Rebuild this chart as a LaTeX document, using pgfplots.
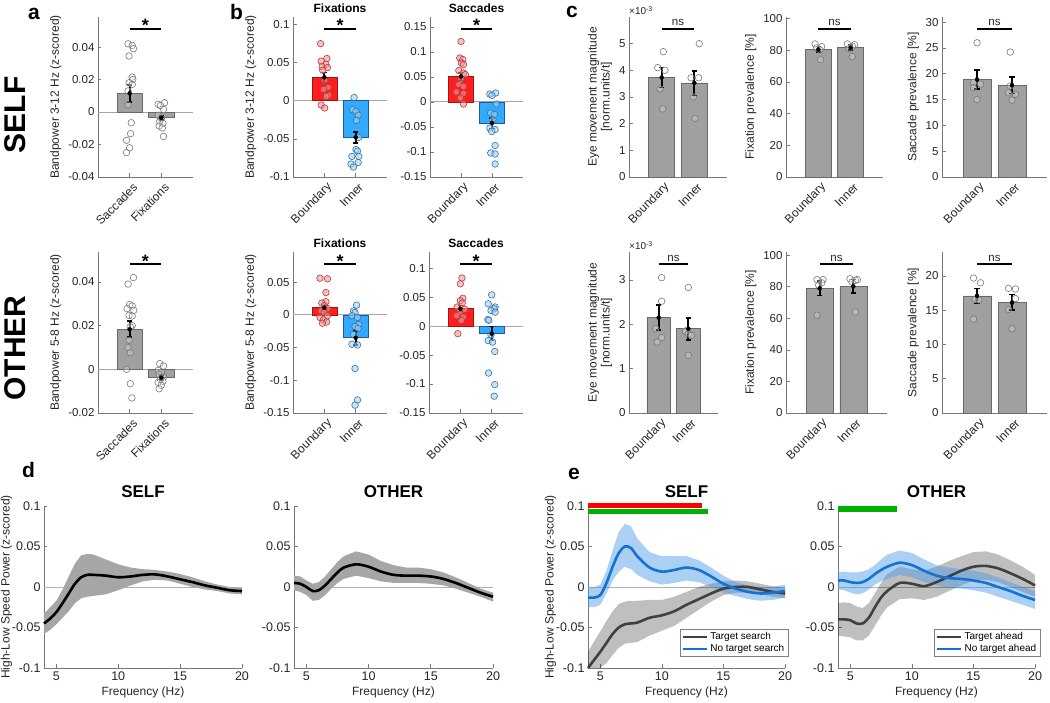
\documentclass[border=0pt]{standalone}
\usepackage{fontspec}
\setmainfont{Liberation Sans}
\usepackage{pgfplots}
\pgfplotsset{compat=1.18}
\usepackage{pgfplotstable}

\definecolor{axgray}{RGB}{120,120,120}
\definecolor{txt}{RGB}{38,38,38}
\definecolor{bargray}{RGB}{160,160,160}
\definecolor{baredge}{RGB}{105,105,105}
\definecolor{barred}{RGB}{255,30,30}
\definecolor{rededge}{RGB}{160,20,20}
\definecolor{barblue}{RGB}{50,170,255}
\definecolor{blueedge}{RGB}{30,90,150}
\definecolor{ptgray}{RGB}{120,120,120}
\definecolor{ptred}{RGB}{180,60,60}
\definecolor{ptredfill}{RGB}{240,150,150}
\definecolor{ptblue}{RGB}{55,115,160}
\definecolor{ptbluefill}{RGB}{160,210,245}
\definecolor{lineblue}{RGB}{20,115,210}
\definecolor{bandblue}{RGB}{70,150,230}
\definecolor{linedark}{RGB}{64,64,64}
\definecolor{sigred}{RGB}{255,0,0}
\definecolor{siggreen}{RGB}{0,176,0}

\pgfplotsset{
 base/.style={scale only axis, anchor=south west, axis x line*=bottom, axis y line*=left,
   axis line style={axgray, line width=0.7pt}, tick style={axgray, line width=0.7pt},
   major tick length=3.5pt, tick align=inside,
   ticklabel style={font=\fontsize{11.5}{12}\selectfont, text=txt},
   label style={font=\fontsize{12}{13}\selectfont, text=txt},
   /pgf/number format/assume math mode=true, /pgf/number format/fixed,
   scaled ticks=false, clip=false,
   title style={font=\bfseries\fontsize{12}{12}\selectfont, at={(0.5,1)}, anchor=base, yshift=-2pt}},
 barax/.style={base, xmin=0, xmax=3, xtick={1,2},
   xticklabel style={font=\fontsize{12}{12}\selectfont, xshift=8pt, yshift=-6pt, rotate=45, anchor=east}},
 lineax/.style={base, xmin=4, xmax=20, ymin=-0.1, ymax=0.1, xtick={5,10,15,20},
   ytick={-0.1,-0.05,0,0.05,0.1}, xlabel={Frequency (Hz)}, ylabel shift=-7pt,
   ticklabel style={font=\fontsize{12.5}{13}\selectfont},
   title style={font=\bfseries\fontsize{17}{17}\selectfont, yshift=4pt}},
 gbar/.style={ybar, bar width=0.8, bar shift=0pt, fill=bargray, draw=baredge, line width=0.6pt},
 rbar/.style={ybar, bar width=0.8, bar shift=0pt, fill=barred, draw=rededge, line width=0.6pt},
 bbar/.style={ybar, bar width=0.8, bar shift=0pt, fill=barblue, draw=blueedge, line width=0.6pt},
 gpts/.style={only marks, mark=*, mark size=3.3pt, mark options={draw=ptgray, fill=white, fill opacity=0.25, line width=0.6pt}},
 rpts/.style={only marks, mark=*, mark size=3.3pt, mark options={draw=ptred, fill=ptredfill, fill opacity=0.6, line width=0.6pt}},
 bpts/.style={only marks, mark=*, mark size=3.3pt, mark options={draw=ptblue, fill=ptbluefill, fill opacity=0.6, line width=0.6pt}},
 ebar/.style={only marks, mark=none, black, error bars/.cd, y dir=both, y explicit,
   error bar style={black, line width=2pt}, error mark options={black, line width=1.6pt, mark size=2.6pt, rotate=90}},
 zline/.style={black!35, line width=1pt},
}
\tikzset{
 sigline/.style={black, line width=2.6pt},
 star/.style={font=\bfseries\fontsize{18}{18}\selectfont, anchor=base, yshift=-3pt, inner sep=0pt},
 ns/.style={font=\fontsize{11.5}{12}\selectfont, anchor=base, yshift=3pt, inner sep=0pt, text=txt},
 pl/.style={font=\bfseries\fontsize{21}{21}\selectfont, anchor=base west, inner sep=0pt},
 expo/.style={anchor=south west, font=\fontsize{10}{10}\selectfont, text=txt, inner sep=0pt, yshift=2pt},
}

% mean curves (x, mean)
\pgfplotstableread{
x m
4 -0.045
4.5 -0.039
5 -0.031
5.5 -0.020
6 -0.008
6.5 0.004
7 0.012
7.5 0.015
8 0.015
9 0.014
10 0.012
11 0.013
12 0.015
13 0.0155
14 0.013
15 0.0095
16 0.006
17 0.002
18 -0.001
19 -0.004
20 -0.005
}\dSelf
\pgfplotstableread{
x m
4 0.005
4.5 0.004
5 0.000
5.5 -0.005
6 -0.004
6.5 0.002
7 0.010
7.5 0.018
8 0.024
9 0.028
10 0.025
11 0.019
12 0.015
13 0.014
14 0.014
15 0.013
16 0.010
17 0.005
18 -0.001
19 -0.007
20 -0.012
}\dOther
\pgfplotstableread{
x m
4 -0.013
4.5 -0.013
5 -0.010
5.5 0.005
6 0.025
6.5 0.042
7 0.050
7.5 0.048
8 0.038
9 0.024
10 0.019
11 0.021
12 0.024
13 0.021
14 0.013
15 0.004
16 -0.002
17 -0.006
18 -0.008
19 -0.007
20 -0.005
}\eSelfNo
\pgfplotstableread{
x m
4 -0.100
4.5 -0.090
5 -0.080
5.5 -0.069
6 -0.058
6.5 -0.050
7 -0.046
7.5 -0.045
8 -0.044
9 -0.038
10 -0.035
11 -0.030
12 -0.022
13 -0.015
14 -0.008
15 -0.002
16 0.000
17 0.000
18 -0.003
19 -0.006
20 -0.008
}\eSelfT
\pgfplotstableread{
x m
4 0.008
4.5 0.008
5 0.006
5.5 0.005
6 0.006
6.5 0.010
7 0.016
7.5 0.021
8 0.025
9 0.030
10 0.027
11 0.020
12 0.014
13 0.011
14 0.010
15 0.008
16 0.005
17 0.000
18 -0.005
19 -0.011
20 -0.016
}\eOtherNo
\pgfplotstableread{
x m
4 -0.040
4.5 -0.040
5 -0.041
5.5 -0.045
6 -0.045
6.5 -0.038
7 -0.025
7.5 -0.013
8 -0.005
9 0.005
10 0.004
11 0.001
12 0.006
13 0.013
14 0.020
15 0.025
16 0.026
17 0.023
18 0.017
19 0.010
20 0.002
}\eOtherT

% confidence bands as closed outlines: upper edge 4->20, then lower edge 20->4
\pgfplotstableread{
x y
4 -0.033
4.5 -0.025
5 -0.017
5.5 -0.003
6 0.013
6.5 0.029
7 0.039
7.5 0.041
8 0.040
9 0.034
10 0.028
11 0.024
12 0.022
13 0.021
14 0.019
15 0.016
16 0.012
17 0.007
18 0.003
19 0.000
20 -0.001
20 -0.009
19 -0.008
18 -0.005
17 -0.003
16 0.000
15 0.004
14 0.008
13 0.009
12 0.007
11 0.002
10 -0.004
9 -0.009
8 -0.011
7.5 -0.012
7 -0.014
6.5 -0.020
6 -0.030
5.5 -0.038
5 -0.046
4.5 -0.053
4 -0.058
}\bSelf
\pgfplotstableread{
x y
4 0.014
4.5 0.013
5 0.008
5.5 0.004
6 0.006
6.5 0.013
7 0.022
7.5 0.031
8 0.038
9 0.044
10 0.040
11 0.032
12 0.027
13 0.024
14 0.024
15 0.022
16 0.018
17 0.012
18 0.005
19 -0.002
20 -0.007
20 -0.018
19 -0.012
18 -0.007
17 -0.002
16 0.002
15 0.004
14 0.005
13 0.005
12 0.005
11 0.007
10 0.011
9 0.014
8 0.010
7.5 0.005
7 -0.002
6.5 -0.010
6 -0.016
5.5 -0.017
5 -0.010
4.5 -0.006
4 -0.004
}\bOther
\pgfplotstableread{
x y
4 0.000
4.5 0.000
5 0.003
5.5 0.020
6 0.045
6.5 0.068
7 0.078
7.5 0.075
8 0.060
9 0.043
10 0.038
11 0.038
12 0.038
13 0.033
14 0.024
15 0.014
16 0.006
17 0.002
18 0.000
19 0.000
20 0.003
20 -0.013
19 -0.016
18 -0.017
17 -0.015
16 -0.011
15 -0.007
14 0.000
13 0.006
12 0.008
11 0.005
10 0.003
9 0.007
8 0.015
7.5 0.022
7 0.025
6.5 0.019
6 0.008
5.5 -0.008
5 -0.022
4.5 -0.025
4 -0.025
}\bSelfNo
\pgfplotstableread{
x y
4 -0.080
4.5 -0.067
5 -0.055
5.5 -0.042
6 -0.030
6.5 -0.021
7 -0.018
7.5 -0.017
8 -0.017
9 -0.016
10 -0.016
11 -0.012
12 -0.006
13 0.000
14 0.004
15 0.007
16 0.008
17 0.007
18 0.004
19 0.001
20 -0.001
20 -0.014
19 -0.012
18 -0.009
17 -0.007
16 -0.007
15 -0.010
14 -0.018
13 -0.028
12 -0.038
11 -0.048
10 -0.054
9 -0.060
8 -0.068
7.5 -0.069
7 -0.070
6.5 -0.075
6 -0.084
5.5 -0.094
5 -0.100
4.5 -0.100
4 -0.100
}\bSelfT
\pgfplotstableread{
x y
4 0.018
4.5 0.019
5 0.018
5.5 0.018
6 0.019
6.5 0.022
7 0.027
7.5 0.034
8 0.040
9 0.045
10 0.042
11 0.034
12 0.027
13 0.024
14 0.022
15 0.020
16 0.017
17 0.012
18 0.006
19 0.000
20 -0.005
20 -0.027
19 -0.022
18 -0.017
17 -0.012
16 -0.007
15 -0.004
14 -0.002
13 -0.001
12 0.002
11 0.006
10 0.012
9 0.015
8 0.010
7.5 0.007
7 0.003
6.5 -0.003
6 -0.008
5.5 -0.009
5 -0.007
4.5 -0.004
4 -0.003
}\bOtherNo
\pgfplotstableread{
x y
4 -0.020
4.5 -0.019
5 -0.020
5.5 -0.024
6 -0.026
6.5 -0.020
7 -0.008
7.5 0.005
8 0.016
9 0.025
10 0.022
11 0.020
12 0.025
13 0.032
14 0.038
15 0.043
16 0.044
17 0.040
18 0.033
19 0.025
20 0.015
20 -0.012
19 -0.006
18 0.000
17 0.006
16 0.009
15 0.008
14 0.002
13 -0.005
12 -0.012
11 -0.016
10 -0.014
9 -0.015
8 -0.025
7.5 -0.035
7 -0.048
6.5 -0.060
6 -0.066
5.5 -0.066
5 -0.062
4.5 -0.061
4 -0.060
}\bOtherT

\begin{document}
\begin{tikzpicture}
\useasboundingbox (0,0) rectangle (1050pt,703pt);

% row labels and panel letters
\node[rotate=90, font=\bfseries\fontsize{30}{30}\selectfont] at (15pt,588pt) {SELF};
\node[rotate=90, font=\bfseries\fontsize{30}{30}\selectfont] at (15pt,355pt) {OTHER};
\node[pl] at (28pt,683pt) {a};
\node[pl] at (230pt,683pt) {b};
\node[pl] at (566pt,685pt) {c};
\node[pl] at (22pt,225pt) {d};
\node[pl] at (568pt,223pt) {e};

% ===== Row 1 =====
\begin{axis}[barax, at={(98pt,526pt)}, width=95pt, height=160pt, ymin=-0.04, ymax=0.0585,
  ytick={-0.04,-0.02,0,0.02,0.04}, xticklabels={Saccades,Fixations}, ylabel={Bandpower 3-12 Hz (z-scored)}]
\addplot[zline] coordinates {(0,0) (3,0)};
\addplot[gbar] coordinates {(1,0.0115) (2,-0.0035)};
\addplot[gpts] coordinates {(0.95,0.042) (1.08,0.041) (1.12,0.039) (0.98,0.0345) (1.08,0.0215) (1.10,0.020) (0.98,0.018) (1.08,0.017) (0.95,0.013) (0.95,0.0045) (1.05,-0.0066) (1.03,-0.0133) (0.90,-0.0174) (1.00,-0.022) (0.90,-0.025)
 (2.10,0.0057) (1.90,0.0047) (1.97,0.004) (2.07,0.0016) (1.90,-0.002) (2.00,-0.004) (1.95,-0.0057) (2.05,-0.007) (1.93,-0.0086) (2.03,-0.0098) (2.07,-0.015)};
\addplot[ebar] coordinates {(1,0.0115) += (0,0.005) -= (0,0.0055) (2,-0.0035) += (0,0.001) -= (0,0.0015)};
\draw[sigline] (rel axis cs:0.3333,0.925) -- (rel axis cs:0.6667,0.925);
\node[star] at (rel axis cs:0.5,0.925) {*};
\end{axis}

\begin{axis}[barax, at={(293pt,526pt)}, width=94pt, height=160pt, ymin=-0.1, ymax=0.11,
  ytick={-0.1,-0.05,0,0.05,0.1}, xticklabels={Boundary,Inner}, ylabel={Bandpower 3-12 Hz (z-scored)}, title={Fixations}]
\addplot[zline] coordinates {(0,0) (3,0)};
\addplot[rbar] coordinates {(1,0.0308)};
\addplot[bbar] coordinates {(2,-0.048)};
\addplot[rpts] coordinates {(0.88,0.075) (1.08,0.0555) (0.90,0.052) (1.05,0.048) (0.93,0.045) (1.10,0.0436) (0.95,0.04) (1.01,0.0265) (1.12,0.0175) (0.98,0.015) (1.14,0.0073) (1.06,0.0056) (0.90,-0.0056) (1.01,-0.0094)};
\addplot[bpts] coordinates {(1.95,0.0043) (1.90,-0.0115) (2.01,-0.014) (2.08,-0.019) (2.03,-0.0256) (2.10,-0.048) (2.01,-0.064) (2.06,-0.066) (1.88,-0.073) (2.10,-0.073) (2.08,-0.081) (1.85,-0.083) (1.93,-0.087)};
\addplot[ebar] coordinates {(1,0.0308) += (0,0.0062) -= (0,0.0068) (2,-0.048) += (0,0.007) -= (0,0.0076)};
\draw[sigline] (rel axis cs:0.3333,0.925) -- (rel axis cs:0.6667,0.925);
\node[star] at (rel axis cs:0.5,0.925) {*};
\end{axis}

\begin{axis}[barax, at={(430pt,526pt)}, width=93pt, height=160pt, ymin=-0.15, ymax=0.17,
  ytick={-0.15,-0.1,-0.05,0,0.05,0.1,0.15}, xticklabels={Boundary,Inner}, title={Saccades}]
\addplot[zline] coordinates {(0,0) (3,0)};
\addplot[rbar] coordinates {(1,0.051)};
\addplot[bbar] coordinates {(2,-0.042)};
\addplot[rpts] coordinates {(1.00,0.121) (0.96,0.088) (1.06,0.085) (1.01,0.078) (1.08,0.075) (0.93,0.063) (1.08,0.058) (1.14,0.055) (1.00,0.045) (0.93,0.035) (1.08,0.031) (0.85,0.020) (1.08,0.017) (0.98,0.008) (1.08,-0.004)};
\addplot[bpts] coordinates {(2.12,0.018) (1.93,0.016) (2.00,0.013) (2.14,-0.004) (1.95,-0.022) (2.08,-0.025) (2.03,-0.035) (1.93,-0.052) (2.10,-0.055) (1.99,-0.059) (2.10,-0.087) (1.96,-0.102) (2.10,-0.104) (2.10,-0.124)};
\addplot[ebar] coordinates {(1,0.051) += (0,0.008) -= (0,0.008) (2,-0.042) += (0,0.010) -= (0,0.011)};
\draw[sigline] (rel axis cs:0.3333,0.925) -- (rel axis cs:0.6667,0.925);
\node[star] at (rel axis cs:0.5,0.925) {*};
\end{axis}

\begin{axis}[barax, at={(629pt,526pt)}, width=98pt, height=160pt, ymin=0, ymax=6,
  ytick={0,1,2,3,4,5}, xticklabels={Boundary,Inner}, ylabel style={align=center},
  ylabel={Eye movement magnitude\\{[norm.units/t]}}]
\addplot[gbar] coordinates {(1,3.73) (2,3.53)};
\addplot[gpts] coordinates {(1.05,4.7) (0.88,4.1) (1.10,4.0) (0.95,3.3) (1.03,2.55) (2.15,5.0) (1.90,3.72) (2.13,3.72) (1.97,3.0) (2.02,2.2)};
\addplot[ebar] coordinates {(1,3.73) += (0,0.37) -= (0,0.38) (2,3.53) += (0,0.45) -= (0,0.48)};
\draw[sigline] (rel axis cs:0.3333,0.925) -- (rel axis cs:0.6667,0.925);
\node[ns] at (rel axis cs:0.5,0.925) {ns};
\node[expo] at (rel axis cs:0,1) {×10\textsuperscript{-3}};
\end{axis}

\begin{axis}[barax, at={(786pt,526pt)}, width=97pt, height=160pt, ymin=0, ymax=101,
  ytick={0,20,40,60,80,100}, xticklabels={Boundary,Inner}, ylabel={Fixation prevalence [\%]}]
\addplot[gbar] coordinates {(1,80.5) (2,81.6)};
\addplot[gpts] coordinates {(0.90,84) (1.10,82.3) (0.95,81.5) (1.05,80.2) (1.07,74) (1.90,84) (2.12,83.5) (2.05,82.5) (1.95,81) (2.05,76)};
\addplot[ebar] coordinates {(1,80.5) += (0,1.8) -= (0,1.7) (2,81.6) += (0,1.7) -= (0,1.6)};
\draw[sigline] (rel axis cs:0.3333,0.925) -- (rel axis cs:0.6667,0.925);
\node[ns] at (rel axis cs:0.5,0.925) {ns};
\end{axis}

\begin{axis}[barax, at={(942pt,526pt)}, width=105pt, height=160pt, ymin=0, ymax=31,
  ytick={0,5,10,15,20,25,30}, xticklabels={Boundary,Inner}, ylabel={Saccade prevalence [\%]}]
\addplot[gbar] coordinates {(1,18.9) (2,17.8)};
\addplot[gpts] coordinates {(1.00,26) (0.90,18.3) (1.10,18) (0.90,17.3) (1.00,15) (1.95,24.2) (1.95,17.6) (1.90,16.3) (2.10,16) (2.00,14.9)};
\addplot[ebar] coordinates {(1,18.9) += (0,1.8) -= (0,1.8) (2,17.8) += (0,1.6) -= (0,1.6)};
\draw[sigline] (rel axis cs:0.3333,0.925) -- (rel axis cs:0.6667,0.925);
\node[ns] at (rel axis cs:0.5,0.925) {ns};
\end{axis}

% ===== Row 2 =====
\begin{axis}[barax, at={(98pt,290pt)}, width=95pt, height=161pt, ymin=-0.02, ymax=0.0537,
  ytick={-0.02,0,0.02,0.04}, xticklabels={Saccades,Fixations}, ylabel={Bandpower 5-8 Hz (z-scored)}]
\addplot[zline] coordinates {(0,0) (3,0)};
\addplot[gbar] coordinates {(1,0.0183) (2,-0.0038)};
\addplot[gpts] coordinates {(1.12,0.042) (0.95,0.039) (1.00,0.0296) (1.08,0.029) (0.92,0.0278) (1.13,0.027) (0.98,0.0247) (1.08,0.0244) (1.08,0.020) (1.02,0.0194) (0.98,0.0133) (0.95,0.0099) (1.02,0.0076) (0.90,0.0) (1.02,-0.0066) (1.07,-0.0131)
 (1.95,0.0026) (2.07,0.0015) (1.90,-0.0005) (2.00,-0.0015) (1.93,-0.0024) (2.07,-0.0035) (1.97,-0.0046) (2.05,-0.0055) (1.90,-0.006) (2.00,-0.0073) (1.93,-0.0089)};
\addplot[ebar] coordinates {(1,0.0183) += (0,0.0037) -= (0,0.0035) (2,-0.0038) += (0,0.0011) -= (0,0.0011)};
\draw[sigline] (rel axis cs:0.3333,0.925) -- (rel axis cs:0.6667,0.925);
\node[star] at (rel axis cs:0.5,0.925) {*};
\end{axis}

\begin{axis}[barax, at={(293pt,290pt)}, width=94pt, height=161pt, ymin=-0.15, ymax=0.096,
  ytick={-0.15,-0.1,-0.05,0,0.05}, xticklabels={Boundary,Inner}, ylabel={Bandpower 5-8 Hz (z-scored)}, title={Fixations}]
\addplot[zline] coordinates {(0,0) (3,0)};
\addplot[rbar] coordinates {(1,0.011)};
\addplot[bbar] coordinates {(2,-0.035)};
\addplot[rpts] coordinates {(0.86,0.056) (1.10,0.055) (1.05,0.034) (1.05,0.02) (0.92,0.018) (1.00,0.014) (1.10,0.0097) (0.90,0.006) (1.00,0.0036) (1.10,-0.0015) (0.86,-0.004) (0.97,-0.0077) (1.07,-0.011) (0.94,-0.0128)};
\addplot[bpts] coordinates {(2.03,0.0148) (1.93,0.006) (1.98,0.0036) (1.88,-0.0015) (2.06,-0.004) (2.10,-0.015) (1.98,-0.018) (2.08,-0.021) (1.93,-0.03) (1.88,-0.045) (2.06,-0.046) (1.98,-0.082) (2.06,-0.13) (1.98,-0.138)};
\addplot[ebar] coordinates {(1,0.011) += (0,0.0038) -= (0,0.0033) (2,-0.035) += (0,0.0105) -= (0,0.011)};
\draw[sigline] (rel axis cs:0.3333,0.925) -- (rel axis cs:0.6667,0.925);
\node[star] at (rel axis cs:0.5,0.925) {*};
\end{axis}

\begin{axis}[barax, at={(429pt,290pt)}, width=94pt, height=161pt, ymin=-0.15, ymax=0.128,
  ytick={-0.15,-0.1,-0.05,0,0.05,0.1}, xticklabels={Boundary,Inner}, title={Saccades}]
\addplot[zline] coordinates {(0,0) (3,0)};
\addplot[rbar] coordinates {(1,0.030)};
\addplot[bbar] coordinates {(2,-0.013)};
\addplot[rpts] coordinates {(1.05,0.083) (1.00,0.073) (1.08,0.048) (1.00,0.044) (1.06,0.040) (0.90,0.033) (1.14,0.029) (0.98,0.024) (0.88,0.018) (1.10,0.0155) (1.03,0.0098) (0.92,-0.013)};
\addplot[bpts] coordinates {(2.00,0.054) (1.89,0.0385) (2.11,0.033) (2.08,0.03) (1.98,0.027) (2.11,0.024) (1.88,0.0115) (1.91,0.01) (1.98,-0.015) (1.89,-0.025) (2.03,-0.0276) (2.10,-0.0437) (1.90,-0.081) (2.10,-0.101) (2.08,-0.121)};
\addplot[ebar] coordinates {(1,0.030) += (0,0.0056) -= (0,0.0047) (2,-0.013) += (0,0.0124) -= (0,0.012)};
\draw[sigline] (rel axis cs:0.3333,0.925) -- (rel axis cs:0.6667,0.925);
\node[star] at (rel axis cs:0.5,0.925) {*};
\end{axis}

\begin{axis}[barax, at={(629pt,290pt)}, width=89pt, height=161pt, ymin=0, ymax=3.63,
  ytick={0,1,2,3}, xticklabels={Boundary,Inner}, ylabel style={align=center},
  ylabel={Eye movement magnitude\\{[norm.units/t]}}]
\addplot[gbar] coordinates {(1,2.15) (2,1.9)};
\addplot[gpts] coordinates {(1.10,3.05) (1.10,2.52) (0.90,1.9) (1.10,1.7) (0.95,1.6) (2.00,2.83) (1.90,1.85) (2.00,1.78) (2.10,1.75) (2.00,1.3)};
\addplot[ebar] coordinates {(1,2.15) += (0,0.28) -= (0,0.28) (2,1.9) += (0,0.24) -= (0,0.25)};
\draw[sigline] (rel axis cs:0.3333,0.925) -- (rel axis cs:0.6667,0.925);
\node[ns] at (rel axis cs:0.5,0.925) {ns};
\node[expo] at (rel axis cs:0,1) {×10\textsuperscript{-3}};
\end{axis}

\begin{axis}[barax, at={(786pt,290pt)}, width=101pt, height=161pt, ymin=0, ymax=102,
  ytick={0,20,40,60,80,100}, xticklabels={Boundary,Inner}, ylabel={Fixation prevalence [\%]}]
\addplot[gbar] coordinates {(1,79) (2,80.2)};
\addplot[gpts] coordinates {(0.92,84.5) (1.10,84.5) (1.06,82.5) (0.97,81) (0.92,62) (1.90,85) (2.12,84.5) (2.06,84) (1.96,83) (2.06,64)};
\addplot[ebar] coordinates {(1,79) += (0,4.5) -= (0,4.5) (2,80.2) += (0,4.3) -= (0,4.2)};
\draw[sigline] (rel axis cs:0.3333,0.925) -- (rel axis cs:0.6667,0.925);
\node[ns] at (rel axis cs:0.5,0.925) {ns};
\end{axis}

\begin{axis}[barax, at={(942pt,290pt)}, width=105pt, height=161pt, ymin=0, ymax=23.5,
  ytick={0,5,10,15,20}, xticklabels={Boundary,Inner}, ylabel={Saccade prevalence [\%]}]
\addplot[gbar] coordinates {(1,17.1) (2,16.1)};
\addplot[gpts] coordinates {(0.90,19.7) (1.10,19) (0.95,16.6) (1.05,16.5) (0.90,13.7) (1.90,18.2) (2.10,18.1) (2.10,16.7) (1.90,15.1) (2.00,12.3)};
\addplot[ebar] coordinates {(1,17.1) += (0,1.1) -= (0,1.1) (2,16.1) += (0,1.2) -= (0,1.1)};
\draw[sigline] (rel axis cs:0.3333,0.925) -- (rel axis cs:0.6667,0.925);
\node[ns] at (rel axis cs:0.5,0.925) {ns};
\end{axis}

% ===== Row 3 =====
\begin{axis}[lineax, at={(44pt,35pt)}, width=198pt, height=162pt, title={SELF},
  ylabel={High-Low Speed Power (z-scored)}]
\addplot[black!30, line width=0.6pt, forget plot] coordinates {(4,0) (20,0)};
\addplot[fill=black!35, draw=none, forget plot] table[x=x,y=y]{\bSelf};
\addplot[black, line width=2.6pt, smooth] table[x=x,y=m]{\dSelf};
\end{axis}

\begin{axis}[lineax, at={(294pt,35pt)}, width=199pt, height=162pt, title={OTHER}]
\addplot[black!30, line width=0.6pt, forget plot] coordinates {(4,0) (20,0)};
\addplot[fill=black!35, draw=none, forget plot] table[x=x,y=y]{\bOther};
\addplot[black, line width=2.6pt, smooth] table[x=x,y=m]{\dOther};
\end{axis}

\begin{axis}[lineax, at={(588pt,35pt)}, width=197pt, height=162pt, title={SELF},
  ylabel={High-Low Speed Power (z-scored)},
  legend style={at={(1,0)}, anchor=south east, xshift=3pt, yshift=11pt, font=\fontsize{10}{11}\selectfont,
    draw=black!50, line width=0.5pt, inner sep=1.5pt, row sep=-1pt, cells={anchor=west}},
  legend image code/.code={\draw[#1, line width=2.5pt] (0pt,0pt) -- (24pt,0pt);}]
\addplot[black!30, line width=0.6pt, forget plot] coordinates {(4,0) (20,0)};
\addplot[fill=black, fill opacity=0.25, draw=none, forget plot] table[x=x,y=y]{\bSelfT};
\addplot[fill=bandblue, fill opacity=0.45, draw=none, forget plot] table[x=x,y=y]{\bSelfNo};
\addplot[linedark, line width=2.6pt, smooth] table[x=x,y=m]{\eSelfT};
\addlegendentry{Target search}
\addplot[lineblue, line width=2.6pt, smooth] table[x=x,y=m]{\eSelfNo};
\addlegendentry{No target search}
\addplot[sigred, line width=5pt, forget plot] coordinates {(4,0.1) (13.24,0.1)};
\addplot[siggreen, line width=5pt, forget plot] coordinates {(4,0.0938) (13.77,0.0938)};
\end{axis}

\begin{axis}[lineax, at={(838pt,35pt)}, width=197pt, height=162pt, title={OTHER},
  legend style={at={(1,0)}, anchor=south east, xshift=5pt, yshift=11pt, font=\fontsize{10}{11}\selectfont,
    draw=black!50, line width=0.5pt, inner sep=1.5pt, row sep=-1pt, cells={anchor=west}},
  legend image code/.code={\draw[#1, line width=2.5pt] (0pt,0pt) -- (24pt,0pt);}]
\addplot[black!30, line width=0.6pt, forget plot] coordinates {(4,0) (20,0)};
\addplot[fill=black, fill opacity=0.25, draw=none, forget plot] table[x=x,y=y]{\bOtherT};
\addplot[fill=bandblue, fill opacity=0.45, draw=none, forget plot] table[x=x,y=y]{\bOtherNo};
\addplot[linedark, line width=2.6pt, smooth] table[x=x,y=m]{\eOtherT};
\addlegendentry{Target ahead}
\addplot[lineblue, line width=2.6pt, smooth] table[x=x,y=m]{\eOtherNo};
\addlegendentry{No target ahead}
\addplot[siggreen, line width=6pt, forget plot] coordinates {(4,0.0963) (8.77,0.0963)};
\end{axis}

\end{tikzpicture}
\end{document}
